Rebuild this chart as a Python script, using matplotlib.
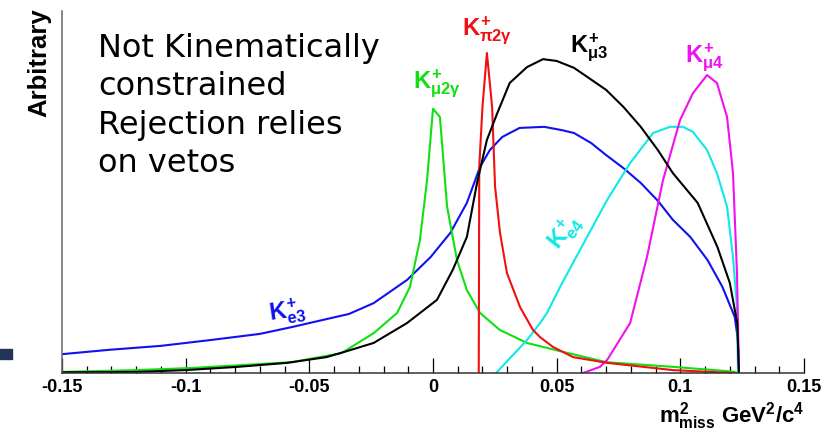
import matplotlib
matplotlib.use("Agg")
from matplotlib import pyplot as plt
from matplotlib.patches import Rectangle
from matplotlib.ticker import MultipleLocator

plt.rcParams['mathtext.fontset'] = 'custom'
plt.rcParams['mathtext.rm'] = 'Liberation Sans:bold'
plt.rcParams['mathtext.it'] = 'Liberation Sans:bold'
plt.rcParams['mathtext.bf'] = 'Liberation Sans:bold'

# m2_miss values (GeV^2/c^4) and arbitrary heights
ke3_x = [-0.150, -0.131, -0.110, -0.090, -0.070, -0.057, -0.043, -0.034, -0.024, -0.0105,
         -0.001, 0.007, 0.0137, 0.019, 0.023, 0.028, 0.035, 0.045, 0.052, 0.057, 0.064, 0.070,
         0.077, 0.084, 0.091, 0.097, 0.104, 0.111, 0.117, 0.122, 0.1233, 0.1237]
ke3_y = [0.052, 0.064, 0.075, 0.091, 0.108, 0.127, 0.149, 0.163, 0.193, 0.257,
         0.320, 0.387, 0.470, 0.569, 0.616, 0.652, 0.677, 0.680, 0.671, 0.663, 0.635, 0.602,
         0.566, 0.525, 0.475, 0.423, 0.376, 0.312, 0.238, 0.155, 0.091, 0.0]

kmu3_x = [-0.150, -0.120, -0.100, -0.079, -0.059, -0.043, -0.036, -0.024, -0.0105, 0.0016,
          0.008, 0.0137, 0.0178, 0.0218, 0.026, 0.031, 0.038, 0.0445, 0.050, 0.057, 0.063,
          0.070, 0.077, 0.084, 0.091, 0.097, 0.107, 0.115, 0.120, 0.123, 0.1237]
kmu3_y = [0.002, 0.003, 0.008, 0.017, 0.028, 0.044, 0.058, 0.083, 0.138, 0.202,
          0.285, 0.376, 0.525, 0.644, 0.718, 0.801, 0.845, 0.867, 0.862, 0.843, 0.815,
          0.782, 0.735, 0.680, 0.615, 0.552, 0.470, 0.348, 0.249, 0.138, 0.0]

kmu2g_x = [-0.150, -0.120, -0.097, -0.057, -0.037, -0.024, -0.0145, -0.0093, -0.0053, -0.0024,
           0.000, 0.0028, 0.0057, 0.0097, 0.0137, 0.019, 0.027, 0.038, 0.051, 0.070, 0.097,
           0.121, 0.1237]
kmu2g_y = [0.003, 0.008, 0.014, 0.030, 0.055, 0.110, 0.166, 0.238, 0.367, 0.533,
           0.730, 0.707, 0.459, 0.312, 0.229, 0.166, 0.119, 0.083, 0.061, 0.030, 0.017,
           0.004, 0.0]

kpi2g_x = [0.0185, 0.0187, 0.0200, 0.0218, 0.0239, 0.0251, 0.0271, 0.0299, 0.0352, 0.0404,
           0.0433, 0.0485, 0.0566, 0.0704, 0.097, 0.1213]
kpi2g_y = [0.0, 0.570, 0.735, 0.884, 0.735, 0.514, 0.387, 0.276, 0.182, 0.119,
           0.099, 0.072, 0.044, 0.028, 0.008, 0.0]

ke4_x = [0.0255, 0.038, 0.0433, 0.0461, 0.0514, 0.0566, 0.0704, 0.0797, 0.089, 0.0958,
         0.1011, 0.1051, 0.1108, 0.1148, 0.1189, 0.1213, 0.1229, 0.1233]
ke4_y = [0.0, 0.091, 0.138, 0.166, 0.238, 0.304, 0.478, 0.580, 0.663, 0.680,
         0.680, 0.666, 0.616, 0.552, 0.459, 0.320, 0.182, 0.0]

kmu4_x = [0.0607, 0.0675, 0.0704, 0.0797, 0.0865, 0.093, 0.0999, 0.1051, 0.1108, 0.1148,
          0.1189, 0.1213, 0.1229, 0.1237]
kmu4_y = [0.0, 0.017, 0.036, 0.138, 0.320, 0.533, 0.699, 0.773, 0.823, 0.801,
          0.707, 0.552, 0.276, 0.0]

fig = plt.figure(figsize=(8.26, 4.33), dpi=100)
ax = fig.add_axes([62 / 826, 60 / 433, 742 / 826, 362 / 433])

lw = 1.5
ax.plot(ke3_x, ke3_y, color='#1010f0', lw=lw)
ax.plot(kmu2g_x, kmu2g_y, color='#10e010', lw=lw)
ax.plot(ke4_x, ke4_y, color='#10e8e8', lw=lw)
ax.plot(kmu4_x, kmu4_y, color='#f010f0', lw=lw)
ax.plot(kpi2g_x, kpi2g_y, color='#f01010', lw=lw)
ax.plot(kmu3_x, kmu3_y, color='black', lw=lw)

ax.set_xlim(-0.15, 0.15)
ax.set_ylim(0, 1.0)

ax.spines['top'].set_visible(False)
ax.spines['right'].set_visible(False)
ax.spines['left'].set_color('#666666')
ax.spines['bottom'].set_color('#333333')
ax.spines['left'].set_linewidth(1.1)
ax.spines['bottom'].set_linewidth(1.1)

ax.set_yticks([])
ax.xaxis.set_major_locator(MultipleLocator(0.05))
ax.xaxis.set_minor_locator(MultipleLocator(0.01))
ax.tick_params(axis='x', which='major', direction='in', length=11, width=0.9, pad=4.5)
ax.tick_params(axis='x', which='minor', direction='in', length=5, width=0.9)
ax.set_xticks([-0.15, -0.1, -0.05, 0, 0.05, 0.1, 0.15])
ax.set_xticklabels(['-0.15', '-0.1', '-0.05', '0', '0.05', '0.1', '0.15'],
                   family='Liberation Sans', fontweight='bold', fontsize=13)

lab = dict(fontsize=17, va='baseline', ha='left')
ax.text(0.0117, 0.934, r'$K^{+}_{\pi 2\gamma}$', color='#f01010', **lab)
ax.text(0.0554, 0.887, r'$K^{+}_{\mu 3}$', color='black', **lab)
ax.text(-0.0081, 0.787, r'$K^{+}_{\mu 2\gamma}$', color='#10e010', **lab)
ax.text(0.1019, 0.859, r'$K^{+}_{\mu 4}$', color='#f010f0', **lab)
ax.text(-0.0671, 0.146, r'$K^{+}_{e3}$', color='#1010f0', rotation=8, **lab)
ax.text(0.0534, 0.389, r'$K^{+}_{e4}$', color='#10e8e8', fontsize=17,
        rotation=52, ha='center', va='center')

ax.text(-0.1355, 0.94, 'Not Kinematically\nconstrained\nRejection relies\non vetos',
        family='DejaVu Sans', fontsize=23, va='top', ha='left', linespacing=1.31)

fig.text(804 / 826, 11 / 433, r'$m^{2}_{miss}$ GeV$^{2}$/c$^{4}$', family='Liberation Sans',
         fontweight='bold', fontsize=16, ha='right', va='baseline')
fig.text(39 / 826, (433 - 117) / 433, 'Arbitrary', family='Liberation Sans', fontweight='bold',
         fontsize=18.5, rotation=90, ha='center', va='bottom')

fig.patches.append(Rectangle((0, (433 - 359) / 433), 12 / 826, 10 / 433,
                             transform=fig.transFigure, color='#22345a'))

fig.savefig('out.png', dpi=100)
